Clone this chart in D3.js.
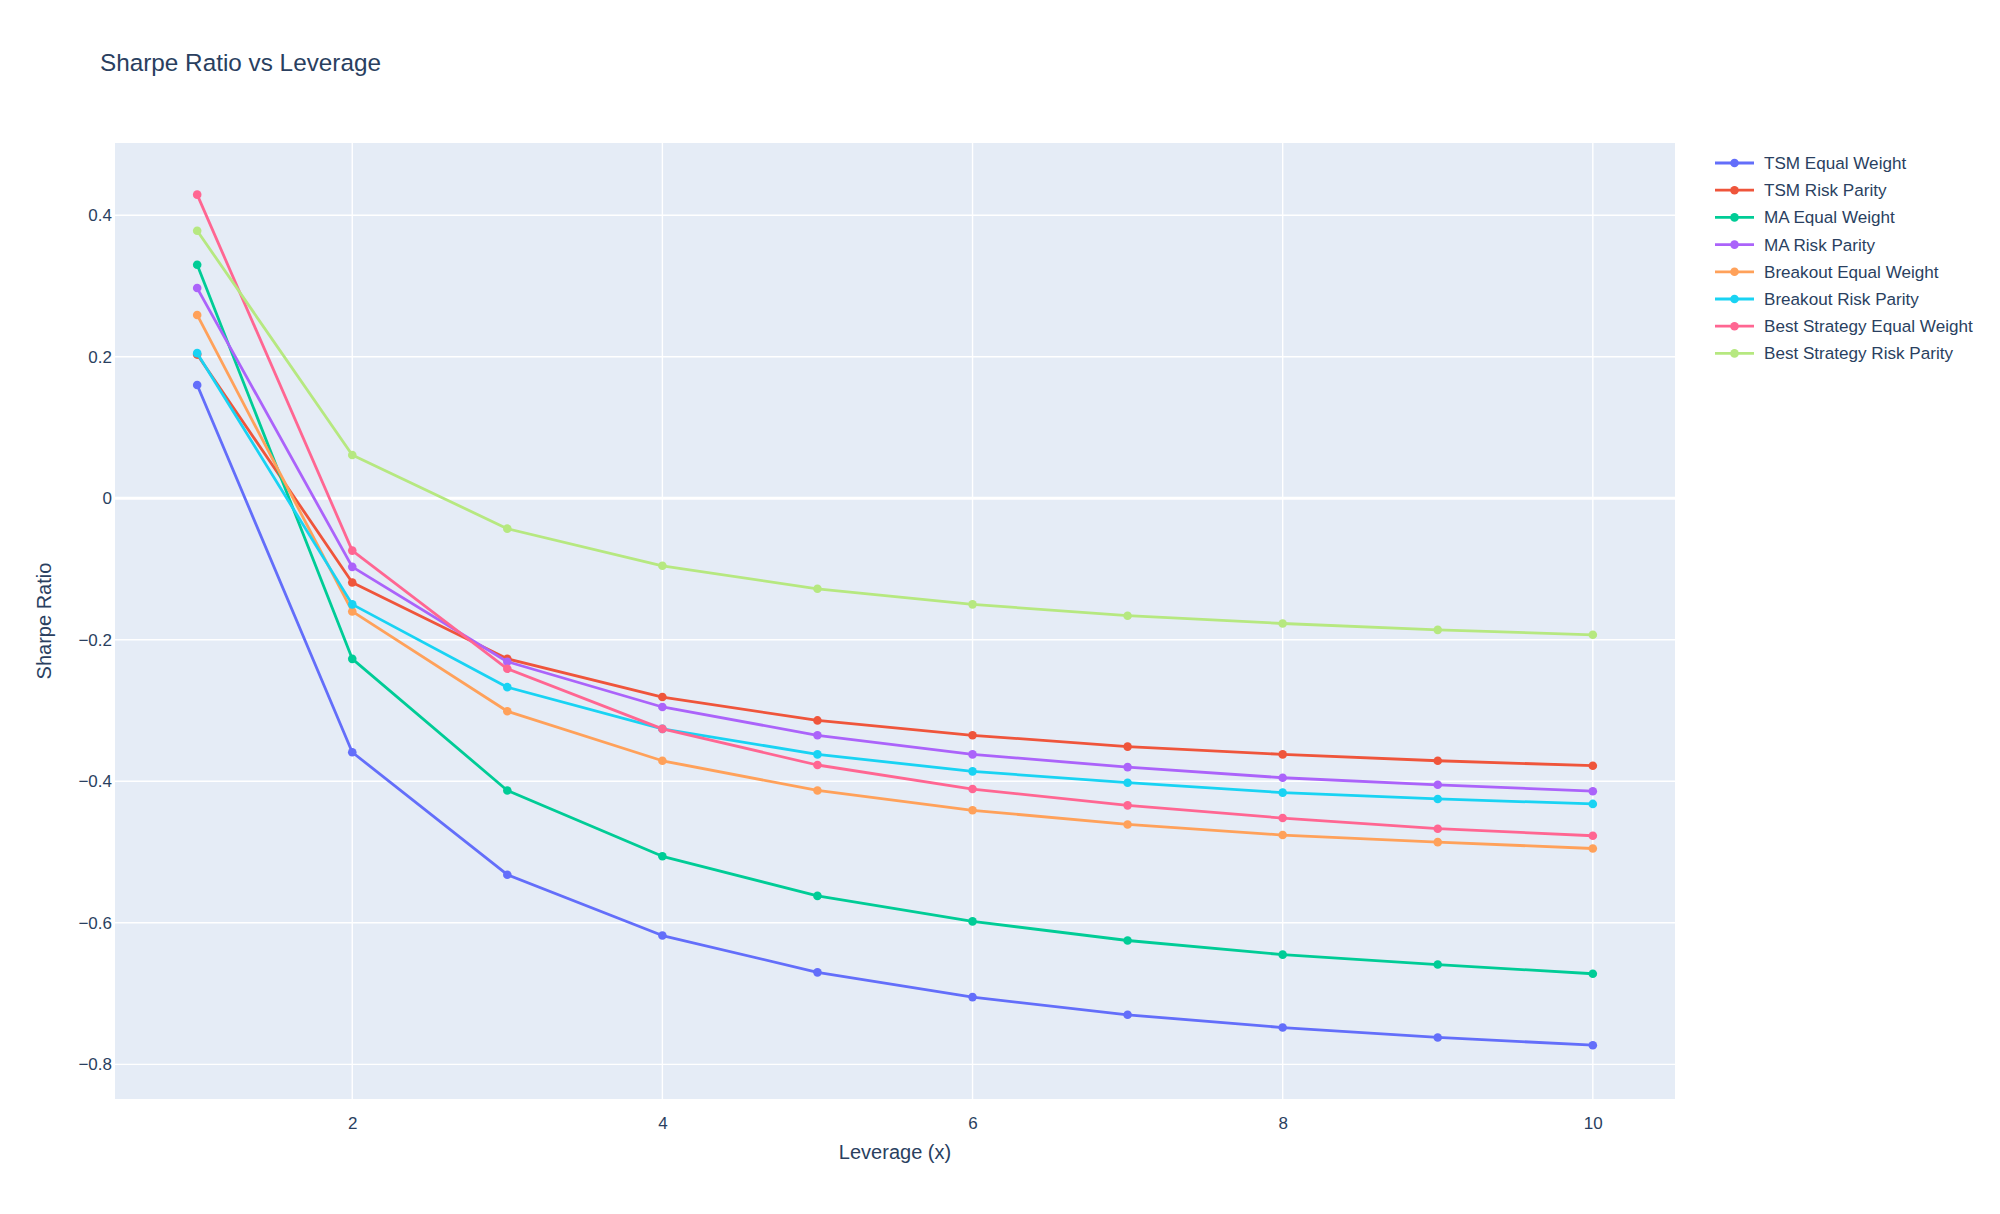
<!DOCTYPE html>
<html>
<head>
<meta charset="utf-8">
<script src="https://cdn.jsdelivr.net/npm/d3@7"></script>
<style>
  body { margin: 0; background: #fff; }
  svg { font-family: "Liberation Sans", Arial, sans-serif; }
</style>
</head>
<body>
<svg id="chart" width="2000" height="1214"></svg>
<script>
var leverage = [1, 2, 3, 4, 5, 6, 7, 8, 9, 10];

var tsmEqual      = [0.160, -0.359, -0.532, -0.618, -0.670, -0.705, -0.730, -0.748, -0.762, -0.773];
var tsmRisk       = [0.203, -0.119, -0.227, -0.281, -0.314, -0.335, -0.351, -0.362, -0.371, -0.378];
var maEqual       = [0.330, -0.227, -0.413, -0.506, -0.562, -0.598, -0.625, -0.645, -0.659, -0.672];
var maRisk        = [0.297, -0.097, -0.231, -0.295, -0.335, -0.362, -0.380, -0.395, -0.405, -0.414];
var breakoutEqual = [0.259, -0.160, -0.301, -0.371, -0.413, -0.441, -0.461, -0.476, -0.486, -0.495];
var breakoutRisk  = [0.205, -0.150, -0.267, -0.326, -0.362, -0.386, -0.402, -0.416, -0.425, -0.432];
var bestEqual     = [0.429, -0.074, -0.241, -0.326, -0.377, -0.411, -0.434, -0.452, -0.467, -0.477];
var bestRisk      = [0.378, 0.061, -0.043, -0.0955, -0.128, -0.150, -0.166, -0.177, -0.186, -0.193];

var seriesNames = ["TSM Equal Weight", "TSM Risk Parity", "MA Equal Weight", "MA Risk Parity",
                   "Breakout Equal Weight", "Breakout Risk Parity", "Best Strategy Equal Weight",
                   "Best Strategy Risk Parity"];
var seriesValues = [tsmEqual, tsmRisk, maEqual, maRisk, breakoutEqual, breakoutRisk, bestEqual, bestRisk];
var colors = ["#636efa", "#EF553B", "#00cc96", "#ab63fa", "#FFA15A", "#19d3f3", "#FF6692", "#B6E880"];

var xTicks = [2, 4, 6, 8, 10];
var yTicks = [-0.8, -0.6, -0.4, -0.2, 0, 0.2, 0.4];

var svg = d3.select("#chart"),
    margin = {top: 143, right: 325, bottom: 115, left: 115},
    width = 2000 - margin.left - margin.right,
    height = 1214 - margin.top - margin.bottom,
    textColor = "#2a3f5f";

var x = d3.scaleLinear().domain([0.47, 10.53]).range([0, width]);
var y = d3.scaleLinear().domain([-0.849, 0.502]).range([height, 0]);

var g = svg.append("g").attr("transform", "translate(" + margin.left + "," + margin.top + ")");

g.append("rect").attr("width", width).attr("height", height).attr("fill", "#E5ECF6");

// grid
g.append("g").selectAll("line").data(xTicks).enter().append("line")
    .attr("x1", function(d) { return x(d); }).attr("x2", function(d) { return x(d); })
    .attr("y1", 0).attr("y2", height)
    .attr("stroke", "#fff").attr("stroke-width", 1.4);
g.append("g").selectAll("line").data(yTicks).enter().append("line")
    .attr("x1", 0).attr("x2", width)
    .attr("y1", function(d) { return y(d); }).attr("y2", function(d) { return y(d); })
    .attr("stroke", "#fff").attr("stroke-width", function(d) { return d === 0 ? 2.8 : 1.4; });

var fmt = function(d) { return d === 0 ? "0" : d3.format(".1f")(d).replace("-", "\u2212"); };

// axes via d3
var xAxis = g.append("g").attr("transform", "translate(0," + height + ")")
    .call(d3.axisBottom(x).tickValues(xTicks).tickSize(0).tickPadding(18).tickFormat(d3.format("d")));
var yAxis = g.append("g")
    .call(d3.axisLeft(y).tickValues(yTicks).tickSize(0).tickPadding(3).tickFormat(fmt));
[xAxis, yAxis].forEach(function(a) {
  a.select(".domain").remove();
  a.selectAll("text").attr("fill", textColor).style("font-size", "17px")
      .style("font-family", "'Liberation Sans', Arial, sans-serif");
});

// lines
var line = d3.line()
    .x(function(d, i) { return x(leverage[i]); })
    .y(function(d) { return y(d); });

seriesValues.forEach(function(vals, k) {
  var s = g.append("g");
  s.append("path").datum(vals)
      .attr("d", line).attr("fill", "none")
      .attr("stroke", colors[k]).attr("stroke-width", 2.8).attr("stroke-linejoin", "round");
  s.selectAll("circle").data(vals).enter().append("circle")
      .attr("cx", function(d, i) { return x(leverage[i]); })
      .attr("cy", function(d) { return y(d); })
      .attr("r", 4.3).attr("fill", colors[k]);
});

// titles
svg.append("text").attr("x", 100).attr("y", 71)
    .attr("fill", textColor).style("font-size", "24.3px").text("Sharpe Ratio vs Leverage");
svg.append("text").attr("x", margin.left + width / 2).attr("y", 1159)
    .attr("text-anchor", "middle").attr("fill", textColor).style("font-size", "20px").text("Leverage (x)");
svg.append("text")
    .attr("transform", "translate(51," + (margin.top + height / 2) + ") rotate(-90)")
    .attr("text-anchor", "middle").attr("fill", textColor).style("font-size", "20px").text("Sharpe Ratio");

// legend
var legend = svg.append("g").attr("transform", "translate(1715,163)");
var item = legend.selectAll("g").data(seriesNames).enter().append("g")
    .attr("transform", function(d, i) { return "translate(0," + (i * 27.2) + ")"; });
item.append("line").attr("x1", 0).attr("x2", 39)
    .attr("stroke", function(d, i) { return colors[i]; }).attr("stroke-width", 2.8);
item.append("circle").attr("cx", 19.5).attr("r", 4.3).attr("fill", function(d, i) { return colors[i]; });
item.append("text").attr("x", 49).attr("dy", "0.35em")
    .attr("fill", textColor).style("font-size", "17.1px").text(function(d) { return d; });
</script>
</body>
</html>
